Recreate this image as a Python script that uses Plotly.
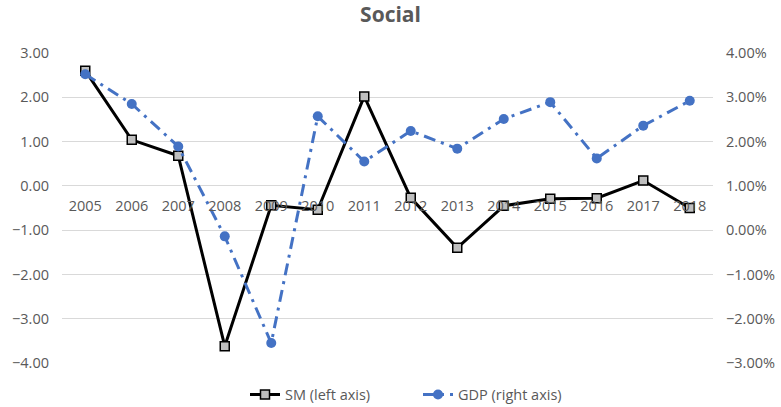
import plotly.graph_objects as go

years = ["2005", "2006", "2007", "2008", "2009", "2010", "2011", "2012", "2013", "2014", "2015", "2016", "2017", "2018"]
sm = [2.60, 1.04, 0.68, -3.62, -0.44, -0.54, 2.02, -0.27, -1.40, -0.45, -0.29, -0.28, 0.12, -0.50]
gdp = [3.52, 2.85, 1.89, -0.14, -2.55, 2.57, 1.55, 2.24, 1.84, 2.51, 2.89, 1.62, 2.36, 2.92]
gdp_frac = [v / 100 for v in gdp]

left_ticks = [3, 2, 1, 0, -1, -2, -3, -4]
right_ticks = [0.04, 0.03, 0.02, 0.01, 0.0, -0.01, -0.02, -0.03]

grey = "#595959"
fs = 14.5
fig = go.Figure()
fig.add_trace(go.Scatter(
    x=years, y=sm, name="SM (left axis)", mode="lines+markers",
    line=dict(color="black", width=3),
    marker=dict(symbol="square", size=9, color="#bfbfbf", line=dict(color="black", width=1.5)),
))
fig.add_trace(go.Scatter(
    x=years, y=gdp_frac, name="GDP (right axis)", mode="lines+markers", yaxis="y2",
    line=dict(color="#4472C4", width=3, dash="12px,6px,3px,6px"),
    marker=dict(symbol="circle", size=10, color="#4472C4"),
))

fig.update_layout(
    width=781, height=407,
    margin=dict(l=62, r=68, t=53, b=44, autoexpand=False),
    paper_bgcolor="white", plot_bgcolor="white",
    font=dict(family="Open Sans", size=fs, color=grey),
    title=dict(text="<b>Social</b>", x=0.5, xanchor="center", y=0.965, yanchor="middle",
               font=dict(size=21, color=grey)),
    xaxis=dict(type="category", range=[-0.5, len(years) - 0.5], anchor="free", position=4/7,
               showgrid=False, automargin=False, ticklabelstandoff=10,
               showline=False, ticks="", tickfont=dict(size=fs, color=grey)),
    yaxis=dict(range=[-4, 3], tickvals=left_ticks, tickformat=".2f", showgrid=True, automargin=False,
               gridcolor="#d9d9d9", gridwidth=1, zeroline=False, showline=False, ticklabelstandoff=12,
               ticks="", tickfont=dict(size=fs, color=grey)),
    yaxis2=dict(range=[-0.03, 0.04], tickvals=right_ticks, tickformat=".2%", overlaying="y",
                side="right", showgrid=False, zeroline=False, showline=False, ticks="", automargin=False,
                ticklabelstandoff=12, tickfont=dict(size=fs, color=grey)),
    legend=dict(orientation="h", x=(245 - 62) / 651, xanchor="left", y=-0.05, yanchor="top",
                entrywidth=128, font=dict(size=fs, color=grey)),
    showlegend=True,
)
fig.write_html("out.html")
